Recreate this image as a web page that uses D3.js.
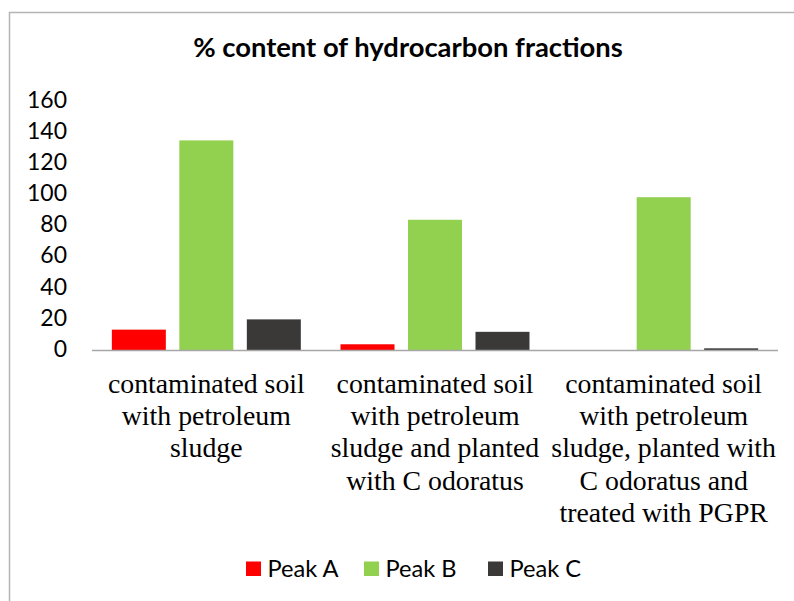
<!DOCTYPE html>
<html>
<head>
<meta charset="utf-8">
<script src="https://cdn.jsdelivr.net/npm/d3@7"></script>
<style>
  body { margin: 0; background: #fff; }
  svg { display: block; }
</style>
</head>
<body>
<svg id="chart"></svg>
<script>
const categories = [
  ["contaminated soil", "with petroleum", "sludge"],
  ["contaminated soil", "with petroleum", "sludge and planted", "with C odoratus"],
  ["contaminated soil", "with petroleum", "sludge, planted with", "C odoratus and", "treated with PGPR"]
];
const seriesNames = ["Peak A", "Peak B", "Peak C"];
const peakA = [13.4, 4.0, 0];
const peakB = [135, 84, 98.5];
const peakC = [20, 12, 1.4];
const yTicks = [0, 20, 40, 60, 80, 100, 120, 140, 160];
const colors = ["#ff0000", "#92d050", "#3b3838"];

const width = 794, height = 601;
const sansFont = "Lato, 'Open Sans', sans-serif";
const svg = d3.select("#chart").attr("width", width).attr("height", height);

// scale a text's font size so it takes the width it has in the reference
function fitWidth(node, base, target) {
  const w = node.getComputedTextLength();
  return base * target / w;
}

// chart frame (only top and left edges fall inside the picture)
svg.append("rect")
  .attr("x", 9.5).attr("y", 12.5)
  .attr("width", 800).attr("height", 600)
  .attr("fill", "none").attr("stroke", "#b4b4b4").attr("stroke-width", 1.5);

const title = svg.append("text")
  .attr("x", 408).attr("y", 57)
  .attr("text-anchor", "middle")
  .style("font-family", sansFont)
  .style("font-weight", "bold")
  .style("font-size", "22px")
  .attr("fill", "#000")
  .text("% content of hydrocarbon fractions");
title.style("font-size", fitWidth(title.node(), 22, 430) + "px");

const groupIdx = d3.range(categories.length);
const x0 = d3.scaleBand().domain(groupIdx).range([92, 778]).padding(0);
const x1 = d3.scaleBand().domain(seriesNames).range([0, x0.bandwidth()])
  .paddingInner(0.2).paddingOuter(0.294);
const y = d3.scaleLinear().domain([0, 160]).range([350.5, 101.5]);

const rows = groupIdx.map(i => ({
  i: i,
  values: [peakA[i], peakB[i], peakC[i]]
}));

const groups = svg.append("g").selectAll("g")
  .data(rows)
  .enter()
  .append("g")
  .attr("transform", d => "translate(" + x0(d.i) + ",0)");

groups.selectAll("rect")
  .data(d => d.values.map((v, k) => ({ k: k, v: v })))
  .enter()
  .append("rect")
  .attr("x", d => x1(seriesNames[d.k]))
  .attr("width", x1.bandwidth())
  .attr("y", d => y(d.v))
  .attr("height", d => y(0) - y(d.v))
  .attr("fill", d => colors[d.k]);

// y axis labels (no axis line, no ticks)
const yAxis = d3.axisLeft(y).tickValues(yTicks).tickSize(0).tickPadding(0);
const yg = svg.append("g").attr("transform", "translate(67,-1.5)").call(yAxis);
yg.select(".domain").remove();
const tickText = yg.selectAll("text")
  .style("font-family", sansFont)
  .style("font-size", "23px")
  .attr("fill", "#000");
const tickSize = fitWidth(tickText.filter(d => d === 160).node(), 23, 40);
tickText.style("font-size", tickSize + "px");

// baseline
svg.append("line")
  .attr("x1", x0.range()[0]).attr("x2", x0.range()[1])
  .attr("y1", y(0)).attr("y2", y(0))
  .attr("stroke", "#a6a6a6").attr("stroke-width", 1.5);

// category labels, wrapped as in the reference
const catLabels = svg.append("g").selectAll("text")
  .data(groupIdx)
  .enter()
  .append("text")
  .attr("x", d => x0(d) + x0.bandwidth() / 2)
  .attr("y", 393)
  .attr("text-anchor", "middle")
  .style("font-family", "'Liberation Serif', 'Times New Roman', serif")
  .style("font-size", "27.8px")
  .attr("fill", "#000");

catLabels.selectAll("tspan")
  .data(d => categories[d])
  .enter()
  .append("tspan")
  .attr("x", function () { return d3.select(this.parentNode).attr("x"); })
  .attr("dy", (d, k) => k === 0 ? 0 : 32.2)
  .text(d => d);

// legend
const legendX = [246, 364, 488];
const legend = svg.append("g").selectAll("g")
  .data(seriesNames)
  .enter()
  .append("g")
  .attr("transform", (d, k) => "translate(" + legendX[k] + ",561.5)");

legend.append("rect")
  .attr("width", 15).attr("height", 14.5)
  .attr("fill", (d, k) => colors[k]);

const legendText = legend.append("text")
  .attr("x", 21.5).attr("y", 15.5)
  .style("font-family", sansFont)
  .style("font-size", "23px")
  .attr("fill", "#000")
  .text(d => d);
const legendSize = fitWidth(legendText.node(), 23, 71);
legendText.style("font-size", legendSize + "px");
</script>
</body>
</html>
